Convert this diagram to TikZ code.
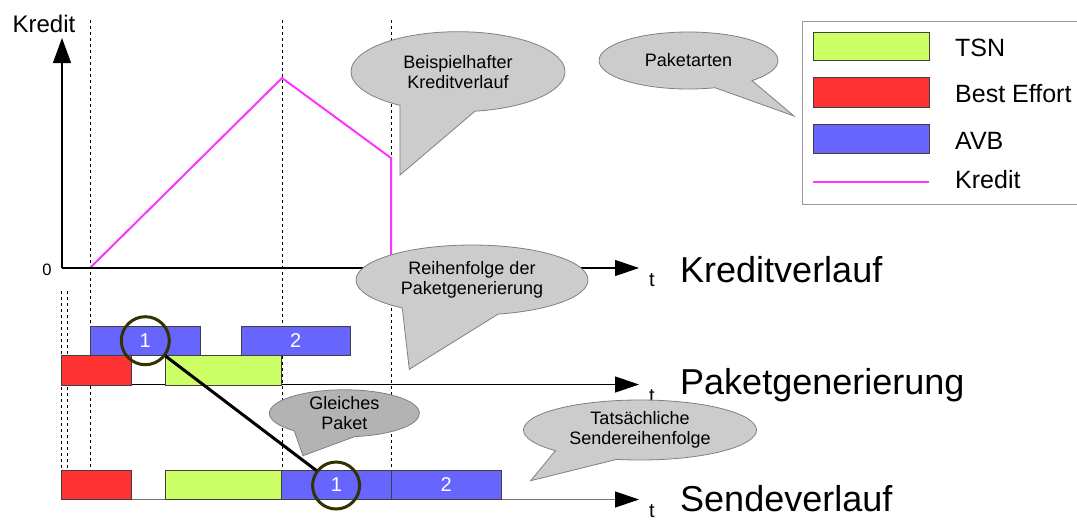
\documentclass[tikz,border=0pt]{standalone}
\usepackage{fontspec}
\setmainfont{Liberation Sans}
\usetikzlibrary{arrows.meta,shapes.callouts,shapes.geometric}
\definecolor{tsn}{HTML}{CCFF66}
\definecolor{bered}{HTML}{FF3333}
\definecolor{avb}{HTML}{6666FF}
\definecolor{kred}{HTML}{FF33FF}
\definecolor{bub}{HTML}{CCCCCC}
\definecolor{bubdark}{HTML}{B3B3B3}
\definecolor{bubline}{HTML}{808080}
\definecolor{ring}{HTML}{333300}
\definecolor{legline}{HTML}{999999}
\begin{document}
\begin{tikzpicture}[x=1pt,y=-1pt,
  guide/.style={draw=black, line width=1pt, dash pattern=on 3pt off 3pt},
  axisline/.style={line width=1.2pt, -{Triangle[length=24pt,width=16pt]}},
  pkt/.style={draw=black!75, line width=0.8pt, inner sep=0pt, minimum height=29.5pt,
    text=white, font=\fontsize{20}{24}\selectfont},
  ringnode/.style={circle, draw=ring, line width=3pt, inner sep=0pt, minimum size=48pt},
  bubble/.style={ellipse callout, draw=bubline, fill=bub, line width=0.8pt, inner sep=0pt,
    align=center, font=\fontsize{18}{20}\selectfont},
  legtext/.style={anchor=base west, inner sep=0pt, font=\fontsize{25}{28}\selectfont},
  biglabel/.style={anchor=base west, inner sep=0pt, font=\fontsize{36}{40}\selectfont},
  tlabel/.style={anchor=base, inner sep=0pt, font=\fontsize{20}{24}\selectfont}
]
\clip (0,0) rectangle (1077,520);

% guide lines
\draw[guide] (90,20) -- (90,470.5);
\draw[guide] (282,20) -- (282,470.5);
\draw[guide] (391,20) -- (391,470.5);
\draw[guide] (61.3,291) -- (61.3,470.5);
\draw[guide] (67,291) -- (67,470.5);

% credit curve
\draw[kred, line width=2pt, line join=miter] (90,268) -- (282,78) -- (391,158) -- (391,268);

% axes
\coordinate (O) at (62,268);
\coordinate (Ytop) at (62,38);
\coordinate (Kend) at (639,268);
\coordinate (Gstart) at (61.3,384.5);
\coordinate (Gend) at (639,384.5);
\coordinate (Sstart) at (61.3,499.5);
\coordinate (Send) at (639,499.5);
\draw[line width=1.2pt, -{Triangle[length=25pt,width=18pt]}] (O) -- (Ytop);
\draw[axisline] (O) -- (Kend);
\draw[axisline] (Gstart) -- (Gend);
\draw[line width=1.2pt, draw=black!55, -{Triangle[length=24pt,width=16pt,color=black]}] (Sstart) -- (Send);

% axis labels
\node[anchor=base, inner sep=0pt, font=\fontsize{24}{28}\selectfont] (kreditlbl) at (44,32) {Kredit};
\node[anchor=base, inner sep=0pt, font=\fontsize{16.5}{20}\selectfont] (zero) at (47,275.5) {0};
\node[tlabel] (t1) at (652,286) {t};
\node[tlabel] (t2) at (652,402) {t};
\node[tlabel] (t3) at (652,517) {t};
\node[biglabel] (lk) at (680,282) {Kreditverlauf};
\node[biglabel] (lp) at (680,394) {Paketgenerierung};
\node[biglabel] (ls) at (680,511) {Sendeverlauf};

% packet generation row
\node[pkt, fill=avb, minimum width=110.2pt] (gb1) at (145.3,340.75) {1};
\node[pkt, fill=avb, minimum width=109.5pt] (gb2) at (295.75,340.75) {2};
\node[pkt, fill=bered, minimum width=69.9pt] (gr) at (96.25,370.25) {};
\node[pkt, fill=tsn, minimum width=116.1pt] (gg) at (223.65,370.25) {};

% sending row
\node[pkt, fill=bered, minimum width=69.9pt] (sr) at (96.25,485) {};
\node[pkt, fill=tsn, minimum width=116.1pt] (sg) at (223.65,485) {};
\node[pkt, fill=avb, minimum width=109.5pt] (sb1) at (336.45,485) {1};
\node[pkt, fill=avb, minimum width=110.2pt] (sb2) at (446.3,485) {2};

% same packet marker
\node[ringnode] (c1) at (145.3,340.7) {};
\node[ringnode, minimum size=47pt] (c2) at (336.1,485.5) {};
\draw[line width=3pt] (c1) -- (c2);

% legend
\node[draw=legline, fill=white, line width=1.2pt, minimum width=288pt, minimum height=183pt,
  inner sep=0pt, anchor=north west] (leg) at (802,21) {};
\node[draw=black!75, line width=0.8pt, fill=tsn, minimum width=116pt, minimum height=28pt, inner sep=0pt] (lg1) at (871,46) {};
\node[draw=black!75, line width=0.8pt, fill=bered, minimum width=116pt, minimum height=30pt, inner sep=0pt] (lg2) at (871,92) {};
\node[draw=black!75, line width=0.8pt, fill=avb, minimum width=116pt, minimum height=29pt, inner sep=0pt] (lg3) at (871,138.5) {};
\coordinate (lk1) at (813,182);
\coordinate (lk2) at (929,182);
\draw[kred, line width=2pt] (lk1) -- (lk2);
\node[legtext] (lt1) at (955,56) {TSN};
\node[legtext] (lt2) at (955,102) {Best Effort};
\node[legtext] (lt3) at (955,149) {AVB};
\node[legtext] (lt4) at (955,188) {Kredit};

% callouts
\node[bubble, minimum width=214pt, minimum height=80pt,
  callout absolute pointer={(400,175)}, callout pointer arc=42] (bk) at (458,71.7) {Beispielhafter\\Kreditverlauf};
\node[bubble, minimum width=179pt, minimum height=57pt,
  callout absolute pointer={(794,116)}, callout pointer arc=28] (bp) at (688.5,60.5) {Paketarten};
\node[bubble, minimum width=232pt, minimum height=70pt,
  callout absolute pointer={(409.3,369.3)}, callout pointer arc=50] (br) at (472,280) {Reihenfolge der\\Paketgenerierung};
\node[bubble, minimum width=233pt, minimum height=60pt,
  callout absolute pointer={(530.7,480.7)}, callout pointer arc=35] (bt) at (640,430) {Tatsächliche\\Sendereihenfolge};
\node[bubble, fill=bubdark, minimum width=150pt, minimum height=47pt,
  callout absolute pointer={(303,455.7)}, callout pointer arc=50] (bg) at (344.4,413.3) {Gleiches\\Paket};
\end{tikzpicture}
\end{document}
